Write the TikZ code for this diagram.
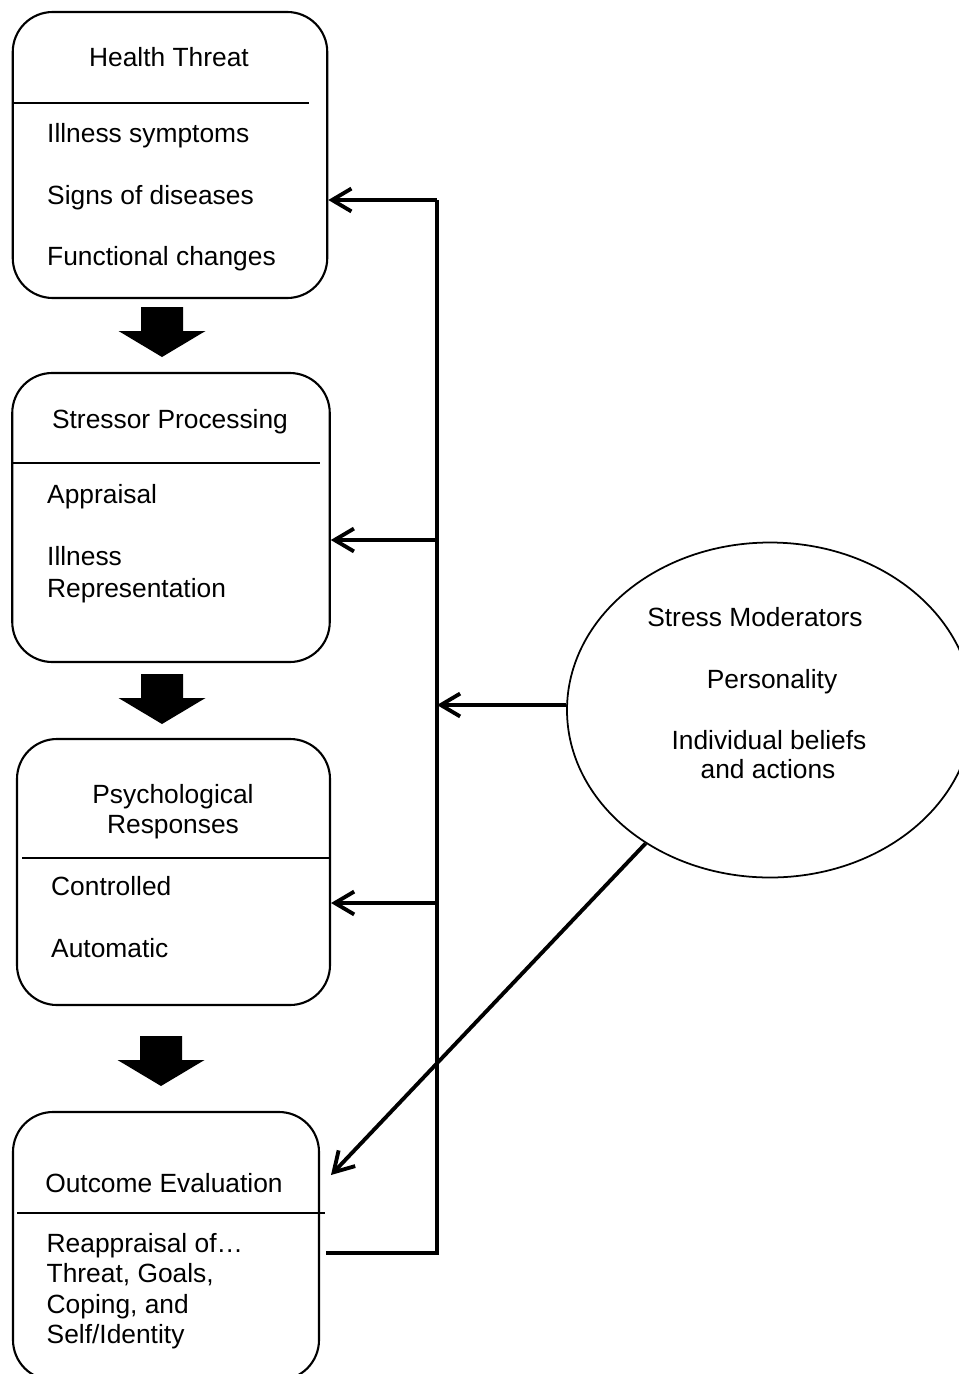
\documentclass[tikz,border=0pt]{standalone}
\usepackage{fontspec}
\setmainfont{Liberation Sans}
\usetikzlibrary{arrows.meta,shapes.geometric}

\tikzset{
  panel/.style={draw, rounded corners=0.4cm, line width=0.6pt},
  txt/.style={inner sep=0pt, font=\fontsize{7.5}{9}\selectfont},
  link/.style={line width=1.1pt},
  >={Straight Barb[length=5.5pt,width=6.5pt]},
  flow/.pic={\fill (-0.21,0) -- (0.21,0) -- (0.21,-0.24) -- (0.435,-0.24) -- (0,-0.50)
     -- (-0.435,-0.24) -- (-0.21,-0.24) -- cycle;}
}

\begin{document}
\begin{tikzpicture}

\useasboundingbox (0,0) rectangle (9.59,-13.74);

\node[panel, minimum width=3.145cm, minimum height=2.86cm] (threat) at (1.70,-1.55) {};
\node[panel, minimum width=3.175cm, minimum height=2.89cm] (stressor) at (1.71,-5.175) {};
\node[panel, minimum width=3.13cm, minimum height=2.66cm] (psych) at (1.735,-8.72) {};
\node[panel, minimum width=3.06cm, minimum height=2.68cm] (outcome) at (1.66,-12.46) {};

\draw[line width=0.6pt] (0.125,-1.03) -- (3.09,-1.03);
\draw[line width=0.6pt] (0.125,-4.63) -- (3.20,-4.63);
\draw[line width=0.6pt] (0.22,-8.58) -- (3.30,-8.58);
\draw[line width=0.6pt] (0.17,-12.13) -- (3.25,-12.13);

\node[txt, anchor=base] (t1) at (1.69,-0.67) {Health Threat};
\node[txt, anchor=base west] (t1a) at (0.465,-1.42) {Illness symptoms};
\node[txt, anchor=base west] (t1b) at (0.465,-2.04) {Signs of diseases};
\node[txt, anchor=base west] (t1c) at (0.465,-2.65) {Functional changes};

\node[txt, anchor=base] (t2) at (1.70,-4.28) {Stressor Processing};
\node[txt, anchor=base west] (t2a) at (0.465,-5.03) {Appraisal};
\node[txt, anchor=base west] (t2b) at (0.465,-5.65) {Illness};
\node[txt, anchor=base west] (t2c) at (0.465,-5.97) {Representation};

\node[txt, anchor=base] (t3) at (1.73,-8.03) {Psychological};
\node[txt, anchor=base] (t3x) at (1.73,-8.33) {Responses};
\node[txt, anchor=base west] (t3a) at (0.505,-8.95) {Controlled};
\node[txt, anchor=base west] (t3b) at (0.505,-9.57) {Automatic};

\node[txt, anchor=base] (t4) at (1.64,-11.92) {Outcome Evaluation};
\node[txt, anchor=base west] (t4a) at (0.46,-12.52) {Reappraisal of…};
\node[txt, anchor=base west] (t4b) at (0.46,-12.82) {Threat, Goals,};
\node[txt, anchor=base west] (t4c) at (0.46,-13.13) {Coping, and};
\node[txt, anchor=base west] (t4d) at (0.46,-13.43) {Self/Identity};

\pic at (1.62,-3.07) {flow};
\pic at (1.62,-6.74) {flow};
\pic at (1.61,-10.36) {flow};

\node[draw, ellipse, line width=0.5pt, inner sep=0pt, minimum width=4.06cm, minimum height=3.35cm] (moderators) at (7.70,-7.10) {};
\node[txt, anchor=base] (m1) at (7.55,-6.26) {Stress Moderators};
\node[txt, anchor=base] (m2) at (7.72,-6.88) {Personality};
\node[txt, anchor=base] (m3) at (7.69,-7.49) {Individual beliefs};
\node[txt, anchor=base] (m4) at (7.68,-7.78) {and actions};

\coordinate (b1) at (4.37,-2.00);
\coordinate (b2) at (4.37,-5.40);
\coordinate (b3) at (4.37,-9.03);
\coordinate (b4) at (4.37,-7.05);
\coordinate (b5) at (4.37,-12.53);
\coordinate (hit) at (3.31,-11.75);

\draw[link] (b1) -- (b5) -- ([xshift=0.06cm]b5 -| outcome.east);
\draw[link,->] (b1) -- (b1 -| threat.east);
\draw[link,->] (b2) -- (b2 -| stressor.east);
\draw[link,->] (b3) -- (b3 -| psych.east);
\draw[link,->] (b4 -| moderators.west) -- (b4);
\draw[link,->] (moderators.227) -- (hit);

\end{tikzpicture}
\end{document}
